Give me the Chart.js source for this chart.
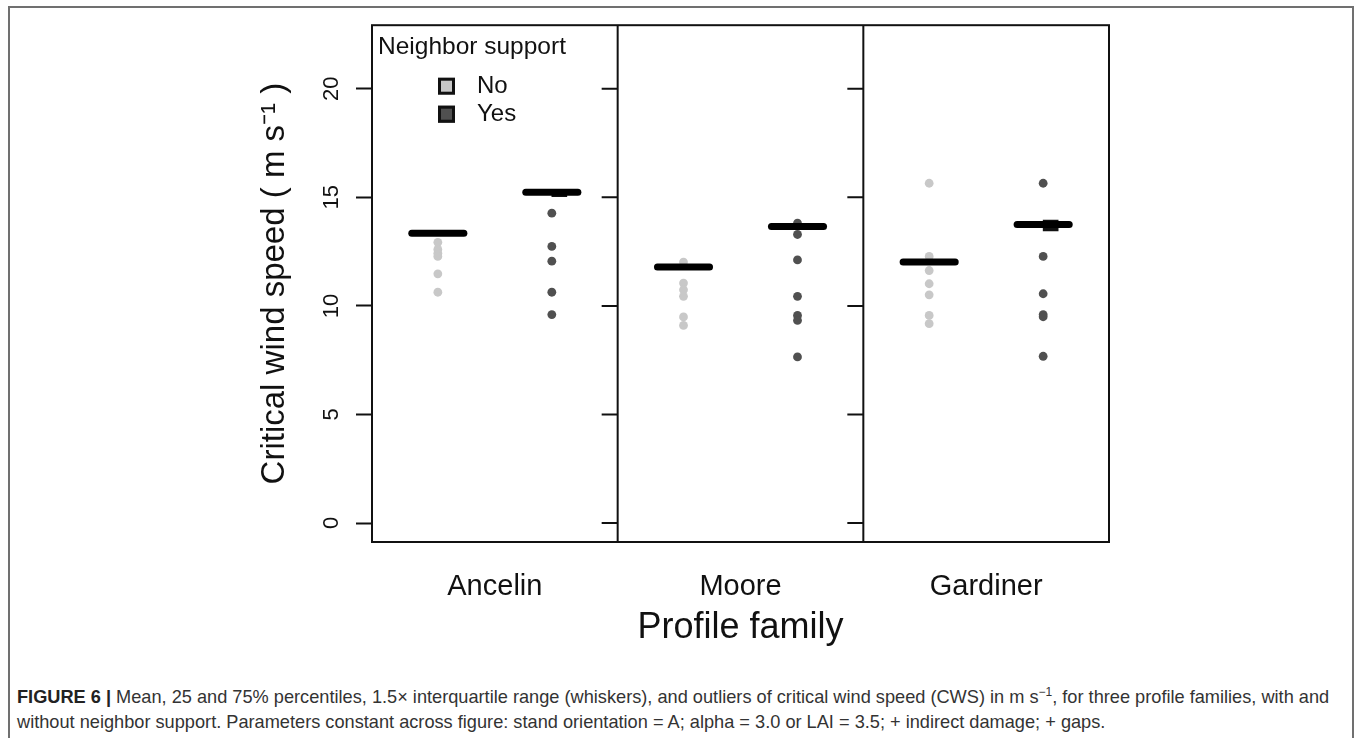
<!DOCTYPE html>
<html>
<head>
<meta charset="utf-8">
<script src="https://cdn.jsdelivr.net/npm/chart.js@4.4.1/dist/chart.umd.min.js"></script>
<style>
  html, body { margin: 0; padding: 0; background: #fff; }
  #frame { position: absolute; left: 8px; top: 6px; width: 1342px; height: 760px; border: 2px solid #707070; border-bottom: none; }
  #chart { position: absolute; left: 0; top: 0; }
  #caption { position: absolute; left: 17px; top: 680px; width: 1335px; white-space: nowrap; font-family: 'Liberation Sans', Arial, sans-serif; font-size: 18.2px; line-height: 25px; color: #333; }
  #caption b { color: #222; }
</style>
</head>
<body>
<div id="frame"></div>
<canvas id="chart" width="1358" height="660"></canvas>
<div id="caption"><b>FIGURE 6 |</b> Mean, 25 and 75% percentiles, 1.5&times; interquartile range (whiskers), and outliers of critical wind speed (CWS) in m s<sup style="font-size:12px">&minus;1</sup>, for three profile families, with and<br>without neighbor support. Parameters constant across figure: stand orientation = A; alpha = 3.0 or LAI = 3.5; + indirect damage; + gaps.</div>
<script>
// profile families (panels) and neighbor support groups
const families = ['Ancelin', 'Moore', 'Gardiner'];
const supportLabels = ['No', 'Yes'];
const supportColors = ['#c8c8c8', '#505050'];
const yTicks = [0, 5, 10, 15, 20];

// outliers, per family
const noPoints = [
   [12.93, 12.6, 12.42, 12.28, 11.48, 10.63],
   [12.02, 11.05, 10.74, 10.44, 9.49, 9.10],
   [15.65, 12.28, 11.63, 11.02, 10.51, 9.56, 9.18]
];
const yesPoints = [
   [14.27, 12.74, 12.06, 10.63, 9.60],
   [13.81, 13.29, 12.12, 10.44, 9.56, 9.33, 7.65],
   [15.65, 12.28, 10.56, 9.60, 9.50, 7.68]
];
// means
const noMeans = [13.35, 11.79, 12.02];
const yesMeans = [15.23, 13.66, 13.75];
// 25-75% boxes (mostly hidden under the mean bar)
const noBoxes = [[13.25, 13.4], [11.72, 11.85], [11.95, 12.08]];
const yesBoxes = [[15.03, 15.28], [13.6, 13.72], [13.45, 13.95]];

Chart.defaults.font.family = '"Liberation Sans", Arial, sans-serif';
Chart.defaults.color = '#111';

function groupX(panel, g) {
   return panel + (g === 0 ? 0.268 : 0.732);
}

const allPoints = [noPoints, yesPoints];
const allMeans = [noMeans, yesMeans];
const allBoxes = [noBoxes, yesBoxes];
const datasets = [];

supportLabels.forEach(function(label, g) {
   // mean bars
   families.forEach(function(f, p) {
      datasets.push({
         type: 'line',
         label: label + ' mean ' + f,
         data: [{x: groupX(p, g) - 0.106, y: allMeans[g][p]}, {x: groupX(p, g) + 0.106, y: allMeans[g][p]}],
         borderColor: '#000',
         borderWidth: 7,
         borderCapStyle: 'round',
         pointRadius: 0,
         order: 0
      });
   });
   datasets.push({
      type: 'bar',
      label: label + ' box',
      data: families.map(function(f, p) { return {x: groupX(p, g), y: allBoxes[g][p]}; }),
      backgroundColor: '#111',
      barThickness: 15,
      order: 1
   });
   const pts = [];
   families.forEach(function(f, p) {
      allPoints[g][p].forEach(function(v) { pts.push({x: groupX(p, g), y: v}); });
   });
   datasets.push({
      type: 'scatter',
      label: label,
      data: pts,
      backgroundColor: supportColors[g],
      borderWidth: 0,
      pointRadius: 4.4,
      order: 2
   });
});

const panelFrame = {
   id: 'panelFrame',
   afterDraw: function(chart) {
      const ctx = chart.ctx, ca = chart.chartArea;
      const x = chart.scales.x, y = chart.scales.y;
      ctx.save();
      ctx.strokeStyle = '#111';
      ctx.lineWidth = 2;
      ctx.strokeRect(ca.left, ca.top, ca.width, ca.height);
      for (let p = 1; p < families.length; p++) {
         const px = x.getPixelForValue(p);
         ctx.beginPath();
         ctx.moveTo(px, ca.top);
         ctx.lineTo(px, ca.bottom);
         yTicks.forEach(function(v) {
            const py = y.getPixelForValue(v);
            ctx.moveTo(px - 16, py);
            ctx.lineTo(px, py);
         });
         ctx.stroke();
      }
      // legend
      ctx.fillStyle = '#111';
      ctx.textAlign = 'left';
      ctx.textBaseline = 'middle';
      ctx.font = '24.5px "Liberation Sans", Arial, sans-serif';
      ctx.fillText('Neighbor support', ca.left + 6, ca.top + 22);
      supportLabels.forEach(function(lab, i) {
         const cy = ca.top + 61 + i * 28;
         const sx = ca.left + 66;
         ctx.fillStyle = supportColors[i];
         ctx.fillRect(sx, cy - 8.5, 17, 17);
         ctx.lineWidth = 3;
         ctx.strokeStyle = '#111';
         ctx.strokeRect(sx + 1.5, cy - 7, 14, 14);
         ctx.fillStyle = '#111';
         ctx.font = '24px "Liberation Sans", Arial, sans-serif';
         ctx.fillText(lab, ca.left + 105, cy);
      });
      ctx.restore();
   }
};

new Chart(document.getElementById('chart').getContext('2d'), {
   type: 'scatter',
   data: { datasets: datasets },
   options: {
      responsive: false,
      animation: false,
      layout: { padding: { left: 255, top: 25, right: 249, bottom: 10.4 } },
      plugins: { legend: { display: false }, tooltip: { enabled: false } },
      scales: {
         x: {
            type: 'linear',
            min: 0,
            max: 3,
            offset: false,
            afterBuildTicks: function(s) { s.ticks = families.map(function(f, i) { return {value: i + 0.5}; }); },
            afterFit: function(s) { s.height = 107.6; },
            ticks: {
               callback: function(v, i) { return families[i]; },
               font: { size: 29 },
               color: '#111',
               padding: 20,
               maxRotation: 0,
               autoSkip: false
            },
            grid: { display: false, offset: false },
            border: { display: false },
            title: { display: true, text: 'Profile family', font: { size: 36 }, color: '#111', padding: 0 }
         },
         y: {
            type: 'linear',
            min: -0.875,
            max: 22.93,
            afterBuildTicks: function(s) { s.ticks = yTicks.map(function(v) { return {value: v}; }); },
            afterFit: function(s) { s.width = 117; },
            ticks: {
               font: { size: 22 },
               color: '#111',
               minRotation: 90,
               maxRotation: 90,
               crossAlign: 'center',
               padding: 12
            },
            grid: { display: true, drawOnChartArea: false, drawTicks: true, tickLength: 16, tickWidth: 2, tickColor: '#111' },
            border: { display: false },
            title: { display: true, text: 'Critical wind speed ( m s\u207B\u00B9 )', font: { size: 33 }, color: '#111', padding: 0 }
         }
      }
   },
   plugins: [panelFrame]
});
</script>
</body>
</html>
